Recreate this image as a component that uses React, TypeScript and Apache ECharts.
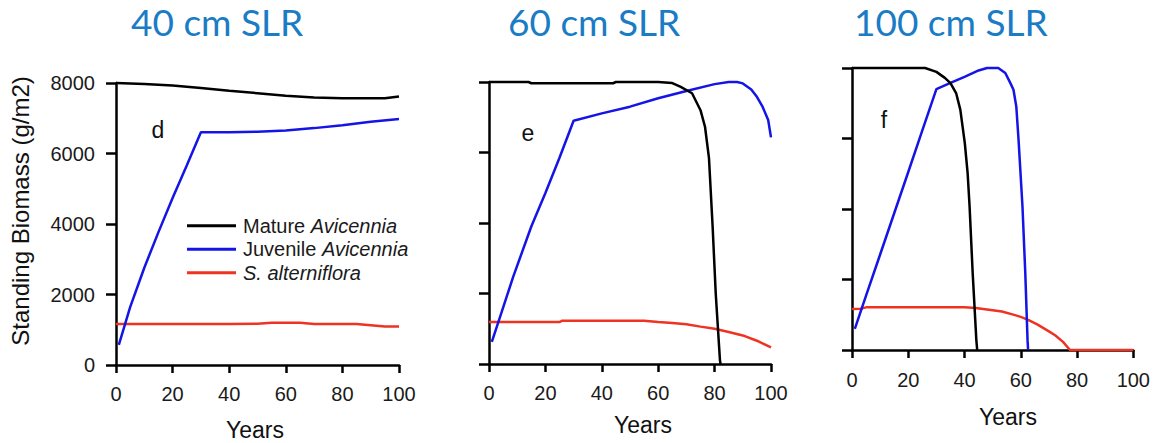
import React, { useEffect, useRef } from "react";
import * as echarts from "echarts";

// ---------- data ----------
const panelTitles = ["40 cm SLR", "60 cm SLR", "100 cm SLR"];
const panelLetters = ["d", "e", "f"];
const seriesNames = ["Mature Avicennia", "Juvenile Avicennia", "S. alterniflora"];
const xTicks = [0, 20, 40, 60, 80, 100];
const yTicks = [0, 2000, 4000, 6000, 8000];

// Panel d: 40 cm SLR
const dMatureYears = [0, 10, 20, 30, 40, 50, 60, 70, 80, 90, 95, 100];
const dMature = [8000, 7970, 7930, 7860, 7780, 7710, 7640, 7590, 7570, 7570, 7570, 7620];
const dJuvYears = [1, 5, 10, 15, 20, 25, 30, 40, 50, 60, 70, 80, 90, 100];
const dJuv = [570, 1640, 2760, 3770, 4740, 5660, 6600, 6600, 6620, 6650, 6720, 6800, 6900, 6980];
const dSaltYears = [0, 20, 40, 50, 55, 65, 70, 85, 90, 95, 100];
const dSalt = [1160, 1160, 1160, 1170, 1200, 1200, 1160, 1160, 1130, 1090, 1090];

// Panel e: 60 cm SLR
const eMatureYears = [0, 14, 15, 44, 45, 60, 65, 68, 72, 75, 76.6, 78, 79.3, 80.4, 81.9, 82.1];
const eMature = [8000, 8000, 7965, 7965, 8000, 8000, 7970, 7860, 7680, 7200, 6730, 5850, 3900, 2000, 110, 0];
const eJuvYears = [1, 5, 8.6, 15, 20, 25, 30, 40, 50, 60, 70, 80, 85, 88, 90, 93, 95, 97, 99, 100];
const eJuv = [630, 1600, 2480, 3900, 4850, 5850, 6900, 7110, 7300, 7540, 7745, 7940, 8000, 8000, 7960, 7790, 7580, 7300, 6920, 6430];
const eSaltYears = [0, 25, 26, 55, 60, 65, 70, 75, 80, 85, 90, 95, 100];
const eSalt = [1190, 1190, 1230, 1230, 1190, 1160, 1125, 1060, 1000, 910, 810, 660, 470];

// Panel f: 100 cm SLR
const fMatureYears = [0, 26, 30, 33, 35, 37, 38.5, 40.1, 41.1, 41.8, 42.9, 44.2, 44.5];
const fMature = [8000, 8000, 7890, 7720, 7570, 7290, 6820, 5870, 5020, 4070, 2180, 280, 0];
const fJuvYears = [1, 5, 10, 15, 20, 25, 30, 35, 40, 45, 48, 52, 54.5, 56.3, 57.4, 58.4, 59.2, 60.6, 61.6, 62.4, 62.6];
const fJuv = [600, 1540, 2710, 3880, 5050, 6230, 7400, 7580, 7750, 7930, 8000, 8000, 7860, 7570, 7385, 6910, 5970, 4070, 2180, 280, 0];
const fSaltYears = [0, 3, 5, 40, 44, 50, 53.3, 57, 60, 62.8, 66, 70, 72.2, 75, 77.5, 100];
const fSalt = [1160, 1170, 1210, 1210, 1190, 1130, 1090, 1010, 940, 850, 720, 530, 420, 230, 0, 0];

const panelData = [
  [[dMatureYears, dMature], [dJuvYears, dJuv], [dSaltYears, dSalt]],
  [[eMatureYears, eMature], [eJuvYears, eJuv], [eSaltYears, eSalt]],
  [[fMatureYears, fMature], [fJuvYears, fJuv], [fSaltYears, fSalt]],
];

// ---------- layout / styles ----------
const COLORS = ["#000000", "#1414e6", "#ee3322"];
const GRIDS = [
  { left: 116, top: 83, width: 283, height: 282 },
  { left: 489, top: 82, width: 282, height: 282 },
  { left: 852, top: 68, width: 283, height: 282 },
];
const X_LABEL_MARGIN = [19, 19, 20];
const TITLE_POS = [[131, 21], [508, 21], [854, 21]];
const LETTER_POS = [[158, 130], [528, 133], [884, 120]];
const YEARS_POS = [[255, 430], [643, 425], [1008, 417]];
const AXIS_FONT = '"Liberation Sans", Arial, Helvetica, sans-serif';
const TITLE_FONT = 'Lato, "Open Sans", sans-serif';
const TITLE_BLUE = "#1a7cc5";

const zip = (xs: number[], ys: number[]) => xs.map((x, i) => [x, ys[i]]);

export default function App() {
  const ref = useRef<HTMLDivElement>(null);

  useEffect(() => {
    if (!ref.current) return;
    const chart = echarts.init(ref.current, undefined, { renderer: "svg" });

    const xAxis = GRIDS.map((_, i) => ({
      type: "value",
      gridIndex: i,
      min: xTicks[0],
      max: xTicks[xTicks.length - 1],
      interval: xTicks[1] - xTicks[0],
      axisLine: { show: true, onZero: false, lineStyle: { color: "#000", width: 2.5 } },
      axisTick: { show: true, inside: false, length: 8, lineStyle: { color: "#000", width: 2.5 } },
      axisLabel: {
        show: true,
        margin: X_LABEL_MARGIN[i],
        fontSize: 20,
        fontFamily: AXIS_FONT,
        color: "#1a1a1a",
        formatter: (v: number) => String(v),
      },
      splitLine: { show: false },
    }));

    const yAxis = GRIDS.map((_, i) => ({
      type: "value",
      gridIndex: i,
      min: yTicks[0],
      max: yTicks[yTicks.length - 1],
      interval: yTicks[1] - yTicks[0],
      axisLine: { show: true, onZero: false, lineStyle: { color: "#000", width: 2.5 } },
      axisTick: { show: true, inside: false, length: 10, lineStyle: { color: "#000", width: 2.5 } },
      axisLabel: {
        show: i === 0,
        margin: 21,
        fontSize: 20,
        fontFamily: AXIS_FONT,
        color: "#1a1a1a",
        formatter: (v: number) => String(v),
      },
      splitLine: { show: false },
    }));

    const series: any[] = [];
    panelData.forEach((panel, p) => {
      panel.forEach(([xs, ys], s) => {
        series.push({
          type: "line",
          name: seriesNames[s],
          xAxisIndex: p,
          yAxisIndex: p,
          data: zip(xs, ys),
          showSymbol: false,
          symbol: "none",
          clip: false,
          z: 3 - s,
          lineStyle: { color: COLORS[s], width: 2.5 },
          itemStyle: { color: COLORS[s] },
        });
      });
    });

    const graphic: any[] = [];
    panelTitles.forEach((t, i) => {
      graphic.push({
        type: "text",
        x: TITLE_POS[i][0],
        y: TITLE_POS[i][1],
        style: {
          text: t,
          fill: TITLE_BLUE,
          fontSize: 37,
          fontFamily: TITLE_FONT,
          textAlign: "left",
          textVerticalAlign: "middle",
        },
      });
    });
    panelLetters.forEach((t, i) => {
      graphic.push({
        type: "text",
        x: LETTER_POS[i][0],
        y: LETTER_POS[i][1],
        style: {
          text: t,
          fill: "#111",
          fontSize: 23,
          fontFamily: AXIS_FONT,
          textAlign: "center",
          textVerticalAlign: "middle",
        },
      });
    });
    YEARS_POS.forEach(([x, y]) => {
      graphic.push({
        type: "text",
        x,
        y,
        style: {
          text: "Years",
          fill: "#111",
          fontSize: 23,
          fontFamily: AXIS_FONT,
          textAlign: "center",
          textVerticalAlign: "middle",
        },
      });
    });
    graphic.push({
      type: "text",
      x: 20,
      y: 211,
      rotation: Math.PI / 2,
      style: {
        text: "Standing Biomass (g/m2)",
        fill: "#111",
        fontSize: 24,
        fontFamily: AXIS_FONT,
        textAlign: "center",
        textVerticalAlign: "middle",
      },
    });

    chart.setOption({
      animation: false,
      backgroundColor: "#ffffff",
      grid: GRIDS.map((g) => ({ ...g, containLabel: false })),
      xAxis,
      yAxis,
      legend: {
        show: true,
        orient: "vertical",
        left: 182,
        top: 209,
        itemWidth: 49,
        itemHeight: 3,
        itemGap: 0,
        icon: "rect",
        data: seriesNames,
        formatter: (name: string) => {
          if (name.startsWith("S. ")) return `{i|${name}}`;
          const parts = name.split(" ");
          return `${parts[0]} {i|${parts.slice(1).join(" ")}}`;
        },
        textStyle: {
          fontSize: 20,
          fontFamily: AXIS_FONT,
          color: "#1a1a1a",
          lineHeight: 23.5,
          padding: [0, 0, 0, 2],
          rich: {
            i: { fontStyle: "italic", fontSize: 20, fontFamily: AXIS_FONT, color: "#1a1a1a", lineHeight: 23.5 },
          },
        },
      },
      graphic,
      series,
    });

    return () => chart.dispose();
  }, []);

  return (
    <div
      ref={ref}
      style={{ position: "absolute", left: 0, top: 0, width: 1153, height: 443, background: "#fff" }}
    />
  );
}
